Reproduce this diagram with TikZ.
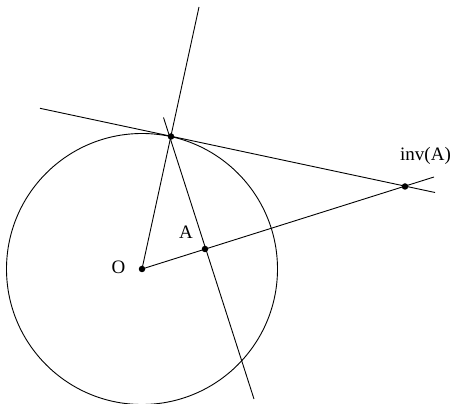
\documentclass[tikz,border=0pt]{standalone}
\usepackage{fontspec}
\setmainfont{Liberation Serif}
\usetikzlibrary{calc}

\begin{document}
\begin{tikzpicture}[
	x=1pt, y=-1pt,
	font=\fontsize{19}{22}\selectfont,
	line width=0.9pt,
	dot/.style={circle, fill=black, inner sep=0pt, minimum size=6.5pt},
	lbl/.style={inner sep=0pt}
]
\useasboundingbox (0,0) rectangle (459,404);

% points
\node[dot] (O) at (142,269) {};
\node[dot] (A) at (205,249) {};
\node[dot] (T) at (171,136.5) {};
\node[dot] (invA) at (405,186.5) {};

% line ends
\coordinate (OTend) at (199,7);
\coordinate (OAend) at (434,177);
\coordinate (tanL) at (40,108.3);
\coordinate (tanR) at (435,192.5);
\coordinate (perpT) at (163.5,117.5);
\coordinate (perpB) at (254,399);

% circle
\draw (O.center) circle[radius=135.5];

% lines
\draw (O.center) -- (OTend);
\draw (O.center) -- (OAend);
\draw (tanL) -- (tanR);
\draw (perpT) -- (perpB);

% labels
\node[lbl] (lO) at (118.5,267) {O};
\node[lbl] (lA) at (186,232) {A};
\node[lbl] (linvA) at (425.5,156) {inv(A)};
\end{tikzpicture}
\end{document}
